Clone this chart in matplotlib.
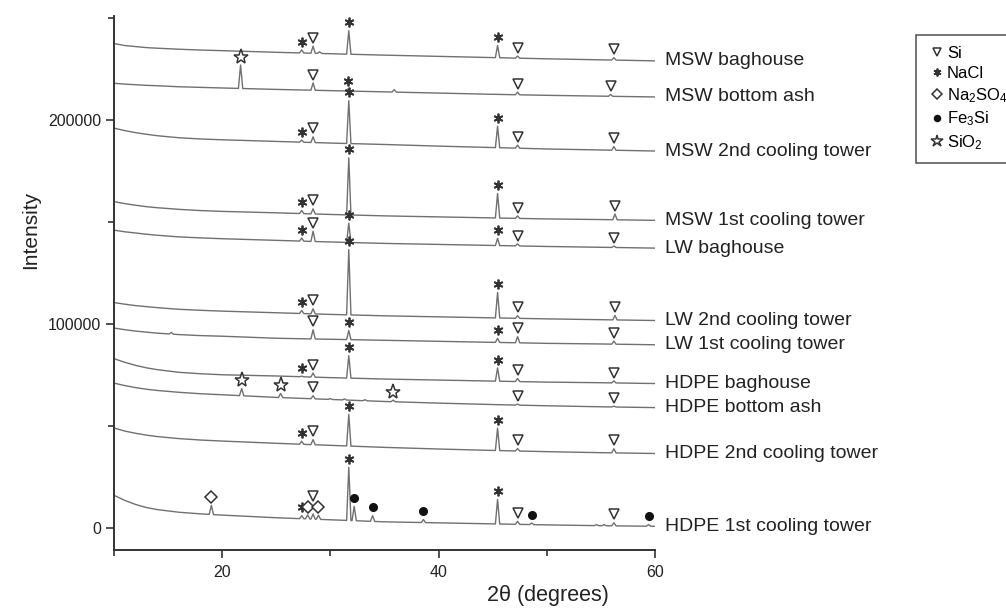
import numpy as np
import matplotlib
matplotlib.use("Agg")
import matplotlib.pyplot as plt
from matplotlib.lines import Line2D
from matplotlib.transforms import ScaledTranslation

plt.rcParams['font.family'] = ['Liberation Sans', 'DejaVu Sans']
plt.rcParams['mathtext.fontset'] = 'custom'
plt.rcParams['mathtext.rm'] = 'Liberation Sans'
plt.rcParams['mathtext.it'] = 'Liberation Sans:italic'
plt.rcParams['mathtext.bf'] = 'Liberation Sans:bold'

# ---------------- data ----------------
theta_anchor = [10, 11, 12, 13, 14, 16, 18, 20, 25, 30, 35, 40, 45, 50, 55, 60]

sample_names = ["MSW baghouse", "MSW bottom ash", "MSW 2nd cooling tower",
                "MSW 1st cooling tower", "LW baghouse", "LW 2nd cooling tower",
                "LW 1st cooling tower", "HDPE baghouse", "HDPE bottom ash",
                "HDPE 2nd cooling tower", "HDPE 1st cooling tower"]

base_msw_bag = [237500, 236500, 236000, 235500, 235200, 234700, 234300, 234000,
                233200, 232500, 231800, 231200, 230600, 230000, 229500, 229000]
base_msw_ash = [218000, 217600, 217300, 217000, 216800, 216300, 216000, 215700,
                215000, 214400, 213800, 213200, 212600, 212100, 211700, 211300]
base_msw_2nd = [196000, 194800, 193800, 193000, 192300, 191300, 190700, 190300,
                189500, 188700, 188000, 187200, 186500, 185800, 185300, 184800]
base_msw_1st = [160000, 159000, 158200, 157500, 157000, 156200, 155600, 155200,
                154500, 153700, 153000, 152500, 152000, 151500, 151200, 150800]
base_lw_bag = [146000, 145200, 144600, 144000, 143500, 142700, 142200, 141800,
               141000, 140200, 139500, 139000, 138500, 138000, 137600, 137200]
base_lw_2nd = [110500, 109700, 109000, 108500, 108000, 107200, 106700, 106300,
               105500, 104700, 104000, 103500, 103000, 102500, 102100, 101700]
base_lw_1st = [98000, 97200, 96500, 96000, 95500, 94800, 94300, 94000,
               93000, 92500, 92000, 91500, 91000, 90500, 90200, 89800]
base_hdpe_bag = [83000, 81200, 79700, 78500, 77600, 76300, 75600, 75100,
                 74500, 73700, 73000, 72500, 72000, 71500, 71200, 70800]
base_hdpe_ash = [71000, 69800, 68800, 68000, 67400, 66500, 65800, 65300,
                 64000, 63000, 62000, 61200, 60500, 59900, 59400, 59000]
base_hdpe_2nd = [49000, 47500, 46400, 45500, 44800, 43800, 43100, 42600,
                 41500, 40500, 39500, 38700, 38000, 37400, 36900, 36500]
base_hdpe_1st = [16000, 13500, 11500, 10000, 9000, 7700, 6900, 6300,
                 5000, 4000, 3000, 2500, 2000, 1500, 1100, 800]

# peaks: (2theta, height above background, phase marker)
peaks_msw_bag = [(27.35, 1500, 'NaCl'), (28.4, 3500, 'Si'), (29.0, 800, None),
                 (31.7, 11500, 'NaCl'), (45.45, 6000, 'NaCl'), (47.3, 1000, 'Si'),
                 (56.2, 1200, 'Si')]
peaks_msw_ash = [(21.7, 11500, 'SiO2'), (28.4, 3600, 'Si'), (31.6, 1000, 'NaCl'),
                 (35.9, 1200, None), (47.3, 1300, 'Si'), (55.9, 900, 'Si')]
peaks_msw_2nd = [(27.35, 1000, 'NaCl'), (28.4, 2800, 'Si'), (31.7, 21000, 'NaCl'),
                 (45.45, 10500, 'NaCl'), (47.3, 1500, 'Si'), (56.2, 1800, 'Si')]
peaks_msw_1st = [(27.35, 1500, 'NaCl'), (28.4, 2500, 'Si'), (31.7, 28000, 'NaCl'),
                 (45.45, 12000, 'NaCl'), (47.3, 1200, 'Si'), (56.3, 2800, 'Si')]
peaks_lw_bag = [(27.35, 1500, 'NaCl'), (28.4, 5000, 'Si'), (31.7, 9500, 'NaCl'),
                (45.45, 3500, 'NaCl'), (47.3, 1000, 'Si'), (56.2, 700, 'Si')]
peaks_lw_2nd = [(27.35, 1500, 'NaCl'), (28.4, 2500, 'Si'), (31.7, 32000, 'NaCl'),
                (45.45, 12500, 'NaCl'), (47.3, 1300, 'Si'), (56.3, 2200, 'Si')]
peaks_lw_1st = [(15.3, 800, None), (28.4, 4500, 'Si'), (31.7, 4500, 'NaCl'),
                (45.45, 2000, 'NaCl'), (47.3, 3000, 'Si'), (56.2, 1500, 'Si')]
peaks_hdpe_bag = [(27.35, 300, 'NaCl'), (28.4, 2000, 'Si'), (31.7, 11000, 'NaCl'),
                  (45.45, 6500, 'NaCl'), (47.3, 1500, 'Si'), (56.2, 1000, 'Si')]
peaks_hdpe_ash = [(21.8, 3500, 'SiO2'), (25.4, 2000, 'SiO2'), (28.4, 1500, 'Si'),
                  (30.0, 400, None), (31.3, 500, None), (33.2, 500, None),
                  (35.8, 800, 'SiO2'), (47.3, 500, 'Si'), (56.2, 400, 'Si')]
peaks_hdpe_2nd = [(27.35, 1500, 'NaCl'), (28.4, 2500, 'Si'), (31.7, 15500, 'NaCl'),
                  (45.45, 11000, 'NaCl'), (47.3, 1200, 'Si'), (56.2, 2000, 'Si')]
peaks_hdpe_1st = [(19.0, 4500, 'Na2SO4'), (27.35, 1500, 'NaCl'), (27.9, 2000, 'Na2SO4'),
                  (28.4, 2500, 'Si'), (28.9, 2000, 'Na2SO4'), (31.7, 26000, 'NaCl'),
                  (32.2, 7000, 'Fe3Si'), (33.9, 2800, 'Fe3Si'), (38.6, 1500, 'Fe3Si'),
                  (45.45, 12000, 'NaCl'), (47.3, 1500, 'Si'), (48.6, 800, 'Fe3Si'),
                  (54.6, 500, None), (55.3, 600, None), (56.2, 1500, 'Si'),
                  (59.4, 800, 'Fe3Si')]

bases = [base_msw_bag, base_msw_ash, base_msw_2nd, base_msw_1st, base_lw_bag,
         base_lw_2nd, base_lw_1st, base_hdpe_bag, base_hdpe_ash, base_hdpe_2nd,
         base_hdpe_1st]
peak_lists = [peaks_msw_bag, peaks_msw_ash, peaks_msw_2nd, peaks_msw_1st, peaks_lw_bag,
              peaks_lw_2nd, peaks_lw_1st, peaks_hdpe_bag, peaks_hdpe_ash,
              peaks_hdpe_2nd, peaks_hdpe_1st]

legend_phases = ['Si', 'NaCl', 'Na2SO4', 'Fe3Si', 'SiO2']
legend_labels = ['Si', 'NaCl', 'Na$_2$SO$_4$', 'Fe$_3$Si', 'SiO$_2$']

# ---------------- styles ----------------
mk = '#333333'
phase_style = {
    'Si': dict(marker='v', ms=7, mfc='white', mec=mk, mew=1.1),
    'NaCl': dict(marker=(6, 2, 0), ms=7, mfc=mk, mec=mk, mew=1.3),
    'Na2SO4': dict(marker='D', ms=6, mfc='white', mec=mk, mew=1.1),
    'Fe3Si': dict(marker='o', ms=5.5, mfc='#111111', mec='#111111', mew=1),
    'SiO2': dict(marker='*', ms=11, mfc='white', mec=mk, mew=1.1),
}
half_width = 0.2
line_color = '#707070'

fig = plt.figure(figsize=(10.06, 6.10), dpi=100)
ax = fig.add_axes([0.1133, 0.0984, 0.5378, 0.8754])

lift = ScaledTranslation(0, 6.0 / 72, fig.dpi_scale_trans)
extra_lift = {(10, 28.4): 7.0 / 72}

for i, (name, base, peaks) in enumerate(zip(sample_names, bases, peak_lists)):
    xs = list(theta_anchor)
    for (t, h, ph) in peaks:
        xs += [t - half_width, t, t + half_width]
    xs = np.array(sorted(set(xs)))
    ys = np.interp(xs, theta_anchor, base)
    for (t, h, ph) in peaks:
        ys = ys + np.interp(xs, [t - half_width, t, t + half_width], [0, h, 0],
                            left=0, right=0)
    ax.plot(xs, ys, color=line_color, lw=1.0, solid_joinstyle='round')
    for (t, h, ph) in peaks:
        if ph is None:
            continue
        top = np.interp(t, theta_anchor, base) + h
        tr = ax.transData + lift
        if (i, t) in extra_lift:
            tr = tr + ScaledTranslation(0, extra_lift[(i, t)], fig.dpi_scale_trans)
        ax.plot([t], [top], ls='none', transform=tr, clip_on=False,
                **phase_style[ph])
    ax.text(60.9, base[-1], name, fontsize=14, va='center', ha='left',
            color='#222222', clip_on=False)

ax.set_xlim(10, 60)
ax.set_ylim(-10800, 251000)
ax.set_xticks([20, 40, 60])
ax.set_xticks([10, 30, 50], minor=True)
ax.set_yticks([0, 100000, 200000])
ax.set_yticks([50000, 150000, 250000], minor=True)
ax.tick_params(axis='both', which='major', length=6, width=1.2, labelsize=11.5,
               color='#333333', labelcolor='#222222', direction='out')
ax.tick_params(axis='both', which='minor', length=4, width=1.2, color='#333333',
               direction='out')
ax.tick_params(axis='y', pad=3)
ax.tick_params(axis='x', pad=5)
for s in ['top', 'right']:
    ax.spines[s].set_visible(False)
for s in ['left', 'bottom']:
    ax.spines[s].set_linewidth(1.4)
    ax.spines[s].set_color('#333333')

ax.set_xlabel('2θ (degrees)', fontsize=15.5, color='#222222')
ax.xaxis.set_label_coords(0.802, -0.066)
ax.set_ylabel('Intensity', fontsize=15, color='#222222')
ax.yaxis.set_label_coords(-0.137, 0.6)

handles = [Line2D([], [], ls='none', **phase_style[p]) for p in legend_phases]
for h in handles:
    h.set_markersize(h.get_markersize() * 0.8)
leg = fig.legend(handles, legend_labels, loc='upper left',
                 bbox_to_anchor=(0.9105, 0.9426), frameon=True, fancybox=False,
                 edgecolor='#333333', fontsize=12, handlelength=1.2,
                 handletextpad=0.0, labelspacing=0.3, borderpad=0.65,
                 borderaxespad=0)
leg.get_frame().set_linewidth(1.2)

fig.savefig('out.png', dpi=100, facecolor='white')
